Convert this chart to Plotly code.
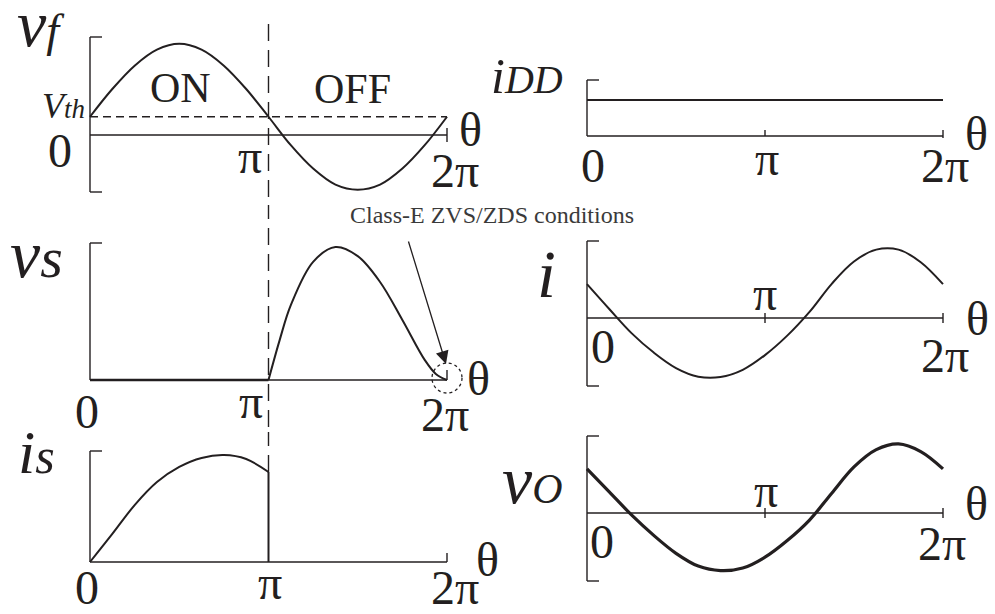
import numpy as np
import plotly.graph_objects as go

PI = np.pi
INK = "#231f20"
SERIF = "Liberation Serif"
W, H = 995, 614

# ---------------- waveform samples (theta given in multiples of pi) ----------------
theta_full = [k / 8 for k in range(17)]          # 0 ... 2
vf = [0.25, 0.63, 0.95, 1.17, 1.25, 1.17, 0.95, 0.63, 0.25,
      -0.14, -0.46, -0.68, -0.75, -0.68, -0.46, -0.14, 0.25]
v_th = 0.25
idd = 1.0
i_out = [0.94, 0.25, -0.42, -0.96, -1.39, -1.63, -1.64, -1.44, -1.03,
         -0.49, 0.17, 0.95, 1.57, 1.90, 1.90, 1.55, 0.94]
vo = [0.69, 0.33, -0.03, -0.35, -0.63, -0.83, -0.90, -0.86, -0.69,
      -0.43, -0.11, 0.31, 0.72, 0.99, 1.08, 0.96, 0.69]
vs_on_theta = [0.0, 1.0]
vs_on = [0.0, 0.0]
vs_theta = [1.0, 1.0625, 1.125, 1.25, 1.375, 1.5, 1.625, 1.75, 1.875, 1.9375, 2.0]
vs = [0.0, 1.05, 1.97, 3.11, 3.50, 3.26, 2.58, 1.58, 0.53, 0.16, 0.0]
is_theta = [k / 8 for k in range(9)]
i_s = [0.0, 0.78, 1.58, 2.22, 2.64, 2.89, 2.97, 2.86, 2.50]
tick_labels = ["0", "π", "2π"]
axis_label = "θ"

# ---------------- panel geometry (pixel origin, pixel scale, pixel box) ----------------
SX_L = 357 / (2 * PI)
SX_R = 356 / (2 * PI)
panels = {
    "vf":  dict(n=1, x0=90,  y0=135, sx=SX_L, sy=73, box=(0, 0, 497, 205)),
    "vs":  dict(n=2, x0=90,  y0=380, sx=SX_L, sy=38, box=(0, 205, 497, 432)),
    "is":  dict(n=3, x0=90,  y0=562, sx=SX_L, sy=36, box=(0, 432, 497, 614)),
    "idd": dict(n=4, x0=587, y0=136, sx=SX_R, sy=36, box=(497, 0, 995, 190)),
    "i":   dict(n=5, x0=587, y0=318, sx=SX_R, sy=36, box=(497, 190, 995, 420)),
    "vo":  dict(n=6, x0=587, y0=513, sx=SX_R, sy=64, box=(497, 420, 995, 614)),
}


def sfx(p):
    return "" if p["n"] == 1 else str(p["n"])


def dx(p, px):
    return (px - p["x0"]) / p["sx"]


def dy(p, py):
    return (p["y0"] - py) / p["sy"]


fig = go.Figure()
layout_axes = {}
for p in panels.values():
    l, t, r, b = p["box"]
    s = sfx(p)
    layout_axes["xaxis" + s] = dict(domain=[l / W, r / W], range=[dx(p, l), dx(p, r)],
                                    visible=False, fixedrange=True, anchor="y" + s)
    layout_axes["yaxis" + s] = dict(domain=[1 - b / H, 1 - t / H], range=[dy(p, b), dy(p, t)],
                                    visible=False, fixedrange=True, anchor="x" + s)

shapes = []
annotations = []


def curve(p, th, vals, width=2.0, shape="spline"):
    s = sfx(p)
    fig.add_trace(go.Scatter(
        x=[t * PI for t in th], y=vals, mode="lines",
        line=dict(color=INK, width=width, shape=shape, smoothing=1.0),
        xaxis="x" + s, yaxis="y" + s, hoverinfo="skip", showlegend=False))


def seg(p, xa, ya, xb, yb, width=1.4, dash=None):
    s = sfx(p)
    shapes.append(dict(type="line", xref="x" + s, yref="y" + s,
                       x0=xa, y0=ya, x1=xb, y1=yb,
                       line=dict(color=INK, width=width, dash=dash)))


def frame(p, top_px, bottom_px=None, pi_tick=None, end_tick=(6, 6)):
    bl = 12 / p["sx"]
    top = dy(p, top_px)
    bottom = dy(p, bottom_px) if bottom_px is not None else 0.0
    seg(p, 0, bottom, 0, top)
    seg(p, 0, top, bl, top)
    if bottom_px is not None:
        seg(p, 0, bottom, bl, bottom)
    seg(p, 0, 0, 2 * PI, 0)
    up, dn = end_tick
    seg(p, 2 * PI, -dn / p["sy"], 2 * PI, up / p["sy"])
    if pi_tick is not None:
        up, dn = pi_tick
        seg(p, PI, -dn / p["sy"], PI, up / p["sy"])


def text(s, cx, base, size, anchor="center", color=INK):
    # place a label by its horizontal anchor and its text baseline (pixels)
    annotations.append(dict(
        xref="paper", yref="paper", x=cx / W, y=1 - (base - 0.3375 * size) / H,
        text=s, showarrow=False, xanchor=anchor, yanchor="middle",
        font=dict(family=SERIF, size=size, color=color)))


def ticks(pos, size=48):
    for lab, (cx, base) in zip(tick_labels + [axis_label], pos):
        text(lab, cx, base, size)


# ---------------- v_f : gate drive ----------------
P = panels["vf"]
frame(P, 37, 192, end_tick=(7, 7))
seg(P, 0, v_th, 2 * PI, v_th, width=1.4, dash="8px,5px")
curve(P, theta_full, vf)
seg(P, PI, dy(P, 24), PI, dy(P, 208), width=1.4, dash="17px,9px")
ticks([(60, 167), (250, 173), (455, 187), (470, 146)])
text("ON", 180, 102, 42)
text("OFF", 352, 103, 42)
text("<i>V</i><span style='font-size:27px'><i>th</i></span>", 87, 118, 36, anchor="right")
text("<i>v</i><span style='font-size:46px'><i>f</i></span>", 15, 46, 66, anchor="left")

# ---------------- v_s : switch voltage ----------------
P = panels["vs"]
frame(P, 243, end_tick=(10, 0))
curve(P, vs_on_theta, vs_on, width=2.4, shape="linear")
curve(P, vs_theta, vs)
seg(P, PI, dy(P, 202), PI, dy(P, 435), width=1.4, dash="17px,9px")
ticks([(87, 428), (251, 418), (445, 431), (478, 395)])
text("<i>v</i><span style='font-size:58px'><i>s</i></span>", 8, 277, 68, anchor="left")
cx, cy, r = 447, 378, 15
shapes.append(dict(type="circle", xref="x2", yref="y2",
                   x0=dx(P, cx - r), x1=dx(P, cx + r), y0=dy(P, cy + r), y1=dy(P, cy - r),
                   line=dict(color=INK, width=1.3, dash="dot")))
annotations.append(dict(xref="x2", yref="y2", x=dx(P, 446), y=dy(P, 364), text="",
                        showarrow=True, arrowhead=2, arrowsize=2.0, arrowwidth=1.3,
                        arrowcolor=INK, ax=408 - 446, ay=240 - 364, standoff=0))
text("Class-E ZVS/ZDS conditions", 492, 223, 24, color="#3a3a3a")

# ---------------- i_s : switch current ----------------
P = panels["is"]
frame(P, 451, end_tick=(9, 0))
curve(P, is_theta, i_s)
curve(P, [is_theta[-1], is_theta[-1]], [i_s[-1], 0.0], shape="linear")
seg(P, PI, dy(P, 429), PI, i_s[-1], width=1.4, dash="17px,9px")
ticks([(87, 604), (270, 599), (455, 604), (487, 576)])
text("<i>i</i><span style='font-size:50px'><i>s</i></span>", 16, 473, 62, anchor="left")

# ---------------- i_DD : supply current ----------------
P = panels["idd"]
frame(P, 80, pi_tick=(6, 0), end_tick=(6, 2))
curve(P, [0, 2], [idd, idd], shape="linear")
ticks([(593, 182), (767, 175), (945, 182), (976, 150)])
text("<i>i</i><span style='font-size:40px'><i>DD</i></span>", 489, 93, 50, anchor="left")

# ---------------- i : output current ----------------
P = panels["i"]
frame(P, 241, 386, pi_tick=(5, 5), end_tick=(5, 5))
curve(P, theta_full, i_out)
ticks([(603, 363), (765, 310), (945, 372), (977, 335)])
text("<i>i</i>", 535, 297, 68, anchor="left")

# ---------------- v_o : output voltage ----------------
P = panels["vo"]
frame(P, 436, 581, pi_tick=(5, 5), end_tick=(5, 5))
curve(P, theta_full, vo, width=3.2)
ticks([(602, 558), (766, 507), (942, 560), (976, 520)])
text("<i>v</i><span style='font-size:42px'><i>O</i></span>", 500, 503, 68, anchor="left")

fig.update_layout(
    width=W, height=H, margin=dict(l=0, r=0, t=0, b=0),
    paper_bgcolor="white", plot_bgcolor="rgba(0,0,0,0)",
    showlegend=False, hovermode=False,
    shapes=shapes, annotations=annotations, **layout_axes)

fig.write_html("out.html", config={"displayModeBar": False})
